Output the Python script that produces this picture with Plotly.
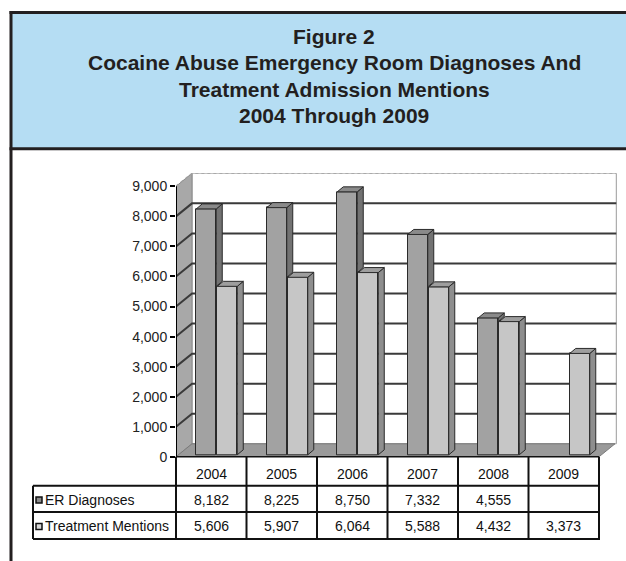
import plotly.graph_objects as go

# ---------------- data ----------------
years = ["2004", "2005", "2006", "2007", "2008", "2009"]
er_diagnoses = [8182, 8225, 8750, 7332, 4555, None]
treatment_mentions = [5606, 5907, 6064, 5588, 4432, 3373]
series_names = ["ER Diagnoses", "Treatment Mentions"]
y_ticks = [0, 1000, 2000, 3000, 4000, 5000, 6000, 7000, 8000, 9000]
y_tick_labels = ["0", "1,000", "2,000", "3,000", "4,000", "5,000", "6,000", "7,000", "8,000", "9,000"]
title_lines = ["Figure 2",
               "Cocaine Abuse Emergency Room Diagnoses And",
               "Treatment Admission Mentions",
               "2004 Through 2009"]

# ---------------- geometry (pixels, reference frame 626x561) ----------------
W, H = 626, 561
HF = 570                   # figure height (page is shown compressed to 561)
KY = HF / H
X0, X1 = 176, 617          # plot area left/right
Y0, Y1 = 456, 173          # plot area bottom/top
CAT_PX = 70.5              # pixels per category
PX_1000 = 30.0             # pixels per 1000 units
ux = 1.0 / CAT_PX          # x units per pixel
uy = 1000.0 / PX_1000      # y units per pixel
x_range = [-0.5, -0.5 + (X1 - X0) / CAT_PX]
y_range = [0, (Y0 - Y1) * uy]
wdx, wdy = 16 * ux, 13 * uy          # wall depth
bdx, bdy = 6 * ux, 5 * uy            # bar depth
bar_w = 20 * ux
bar_base = 2 * uy
off_er, off_tx = -5 * ux, 16 * ux

FONT = "Liberation Sans, Arial, sans-serif"
INK = "#231f20"


def px(x):
    return x / W


def py(y):
    return 1 - y / H


fig = go.Figure()

# front faces of bars
n = len(years)
er_x = [i + off_er for i in range(n) if er_diagnoses[i] is not None]
er_y = [v for v in er_diagnoses if v is not None]
tx_x = [i + off_tx for i in range(n)]

fig.add_trace(go.Bar(x=er_x, y=er_y, base=bar_base, width=bar_w, name=series_names[0],
                     marker=dict(color="#a2a2a2", line=dict(color="#2a2a2a", width=1)),
                     showlegend=False, hoverinfo="skip"))
fig.add_trace(go.Bar(x=tx_x, y=treatment_mentions, base=bar_base, width=bar_w, name=series_names[1],
                     marker=dict(color="#c6c6c6", line=dict(color="#2a2a2a", width=1)),
                     showlegend=False, hoverinfo="skip"))


def faces(xc, top, low):
    xl, xr = xc - bar_w / 2, xc + bar_w / 2
    side = [(xr, low), (xr + bdx, low + bdy), (xr + bdx, top + bdy), (xr, top), (xr, low)]
    topf = [(xl, top), (xl + bdx, top + bdy), (xr + bdx, top + bdy), (xr, top), (xl, top)]
    return side, topf


def add_poly_trace(polys, color):
    xs, ys = [], []
    for p in polys:
        xs += [a for a, b in p] + [None]
        ys += [b for a, b in p] + [None]
    fig.add_trace(go.Scatter(x=xs, y=ys, mode="lines", fill="toself", fillcolor=color,
                             line=dict(color="#2a2a2a", width=1), showlegend=False,
                             hoverinfo="skip"))


er_side, er_top, tx_side, tx_top = [], [], [], []
for i in range(n):
    t_tx = treatment_mentions[i] + bar_base
    if er_diagnoses[i] is not None:
        t_er = er_diagnoses[i] + bar_base
        s, t = faces(i + off_er, t_er, min(t_tx, t_er))
        er_side.append(s)
        er_top.append(t)
    s, t = faces(i + off_tx, t_tx, bar_base)
    tx_side.append(s)
    tx_top.append(t)

add_poly_trace(er_side, "#727272")
add_poly_trace(er_top, "#8a8a8a")
add_poly_trace(tx_side, "#8e8e8e")
add_poly_trace(tx_top, "#9e9e9e")

shapes = []

# frame / title box
shapes.append(dict(type="rect", xref="paper", yref="paper", x0=px(11), x1=px(640), y0=py(148), y1=py(13),
                   fillcolor="#b5ddf3", line=dict(width=0), layer="below"))
shapes.append(dict(type="line", xref="paper", yref="paper", x0=px(9.5), x1=px(640), y0=py(12.5), y1=py(12.5),
                   line=dict(color=INK, width=3)))
shapes.append(dict(type="line", xref="paper", yref="paper", x0=px(9.5), x1=px(640), y0=py(148.5), y1=py(148.5),
                   line=dict(color=INK, width=3)))
shapes.append(dict(type="line", xref="paper", yref="paper", x0=px(11), x1=px(11), y0=py(11), y1=py(575),
                   line=dict(color=INK, width=3)))

# walls and floor (data coordinates)
xa, xb = x_range
back_left = xa + wdx
shapes.append(dict(type="rect", xref="x", yref="y", x0=back_left, x1=xb - 0.01, y0=wdy, y1=y_ticks[-1] + wdy,
                   fillcolor="white", line=dict(color="#9a9a9a", width=1), layer="below"))
shapes.append(dict(type="path", xref="x", yref="y",
                   path=f"M {xa},0 L {back_left},{wdy} L {back_left},{y_ticks[-1] + wdy} L {xa},{y_ticks[-1]} Z",
                   fillcolor="#a8a8a8", line=dict(color="#8a8a8a", width=1), layer="below"))
front_right = n - 0.5
shapes.append(dict(type="path", xref="x", yref="y",
                   path=f"M {xa},0 L {front_right},0 L {front_right + wdx},{wdy} L {back_left},{wdy} Z",
                   fillcolor="#9a9a9a", line=dict(color="#7a7a7a", width=1), layer="below"))
for v in y_ticks[1:]:
    last = v == y_ticks[-1]
    shapes.append(dict(type="path", xref="x", yref="y",
                       path=f"M {xa},{v} L {back_left},{v + wdy} L {xb - 0.01},{v + wdy}",
                       line=dict(color="#a0a0a0" if last else "#3a3a3a", width=1.5 if last else 2,
                                 dash="dot" if last else "solid"),
                       layer="below"))
# y axis line
shapes.append(dict(type="line", xref="x", yref="y", x0=xa, x1=xa, y0=0, y1=y_ticks[-1],
                   line=dict(color="black", width=2)))

# data table
col_edges = [X0 + CAT_PX * i for i in range(n + 1)]
row_edges = [456, 485, 511, 538]
TL = 33
for xe in col_edges:
    shapes.append(dict(type="line", xref="paper", yref="paper", x0=px(xe), x1=px(xe),
                       y0=py(row_edges[0]), y1=py(row_edges[-1]), line=dict(color="#111", width=2)))
shapes.append(dict(type="line", xref="paper", yref="paper", x0=px(TL), x1=px(TL),
                   y0=py(row_edges[1]), y1=py(row_edges[-1]), line=dict(color="#111", width=2)))
shapes.append(dict(type="line", xref="paper", yref="paper", x0=px(X0), x1=px(col_edges[-1]),
                   y0=py(row_edges[0]), y1=py(row_edges[0]), line=dict(color="#111", width=1.5)))
for ye in row_edges[1:]:
    shapes.append(dict(type="line", xref="paper", yref="paper", x0=px(TL), x1=px(col_edges[-1] + 1),
                       y0=py(ye), y1=py(ye), line=dict(color="#111", width=2)))

annotations = []
title_y = [36, 62, 89, 115]
for t, yy in zip(title_lines, title_y):
    annotations.append(dict(text=f"<b>{t}</b>", xref="paper", yref="paper", x=px(334), y=py(yy),
                            xanchor="center", yanchor="middle", showarrow=False,
                            font=dict(family=FONT, size=21, color=INK)))

def fmt(v):
    return "" if v is None else f"{v:,}"

row_centers = [(row_edges[i] + row_edges[i + 1]) / 2 + 1 for i in range(3)]
for i, yr in enumerate(years):
    cx = (col_edges[i] + col_edges[i + 1]) / 2
    annotations.append(dict(text=yr, xref="paper", yref="paper", x=px(cx), y=py(row_centers[0] + 2),
                            xanchor="center", yanchor="middle", showarrow=False,
                            font=dict(family=FONT, size=14, color="#111")))
    for r, series in enumerate([er_diagnoses, treatment_mentions]):
        annotations.append(dict(text=fmt(series[i]), xref="paper", yref="paper", x=px(cx),
                                y=py(row_centers[r + 1]), xanchor="center", yanchor="middle",
                                showarrow=False, font=dict(family=FONT, size=14, color="#111")))

key_colors = ["#8a8a8a", "#d8d8d8"]
for r, name in enumerate(series_names):
    yc = row_centers[r + 1]
    shapes.append(dict(type="rect", xref="paper", yref="paper", x0=px(36), x1=px(42),
                       y0=py(yc + 3), y1=py(yc - 3), fillcolor=key_colors[r],
                       line=dict(color="#111", width=1.5)))
    annotations.append(dict(text=name, xref="paper", yref="paper", x=px(42.5), y=py(yc),
                            xanchor="left", yanchor="middle", showarrow=False,
                            font=dict(family=FONT, size=14, color="#111")))

fig.update_layout(
    width=W, height=HF, margin=dict(l=0, r=0, t=0, b=0),
    paper_bgcolor="white", plot_bgcolor="rgba(0,0,0,0)",
    barmode="overlay", bargap=0,
    xaxis=dict(domain=[px(X0), px(X1)], range=x_range, showgrid=False, zeroline=False,
               showticklabels=False, ticks="", showline=False, fixedrange=True),
    yaxis=dict(domain=[py(Y0), py(Y1)], range=y_range, showgrid=False, zeroline=False,
               tickvals=y_ticks, ticktext=y_tick_labels, ticks="outside", ticklen=5,
               tickwidth=2, tickcolor="black", showline=False,
               tickfont=dict(family=FONT, size=14, color="#222"), fixedrange=True),
    shapes=shapes, annotations=annotations, showlegend=False,
)

fig.write_html("out.html", config={"displayModeBar": False},
               post_script="document.body.style.margin='0';document.body.style.overflow='hidden';")
